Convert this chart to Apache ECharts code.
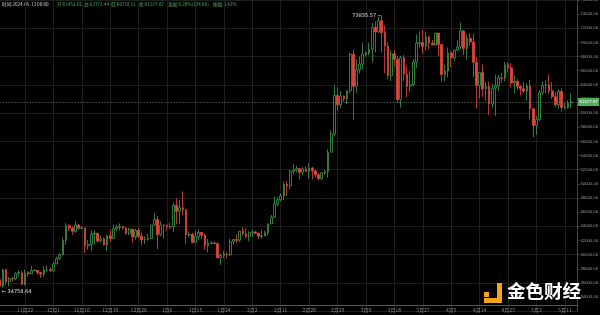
<!DOCTYPE html>
<html><head><meta charset="utf-8">
<script src="https://cdn.jsdelivr.net/npm/echarts@6/dist/echarts.min.js"></script>
<style>html,body{margin:0;padding:0;background:#000}#c{width:600px;height:315px}</style>
</head><body><div id="c"></div>
<script>
// Daily BTC candles, first day 2023-11-14
const startDate = '2023-11-14';
const axisBaseDate = '2023-11-22';
const opens = [36462,35537,37880,36160,36595,36568,37360,37450,35760,37420,37290,37720,37795,37480,37250,37830,37850,
37712,38690,39460,39970,41980,44080,43770,43290,44170,43720,43790,41240,41450,42890,43020,41930,42240,41360,42660,42260,43650,43870,43990,43740,43020,43610,42520,43440,42580,42070,42140,
42280,44180,44950,42850,44180,44160,43970,43930,46970,46120,46630,46340,42780,42850,41730,42510,43150,42740,41260,41620,41660,41580,39570,39880,40080,39940,41820,42120,42030,43300,42940,
42580,43080,43200,43010,42580,42660,43090,44340,45290,47130,47750,48290,49960,49700,51790,51910,52160,51660,52120,51780,52260,51850,51300,50740,51570,51730,54480,57050,62500,
61190,62440,62030,63170,68330,63800,66110,66930,68300,68500,69020,72120,71480,73070,71390,69500,65300,68390,67610,61940,67840,65500,63800,64040,67210,69880,69990,69450,70780,69890,69650,
71330,69700,65460,65960,68500,67840,68900,69360,71620,69140,70590,70060,67190,63920,65740,63420,63810,61280,63510,63840,64990,64940,66840,66410,64280,64500,63770,63460,63120,63840,
60640,58250,59120,62890,63890,64030,63160,62330,61190,63070,60790,60820,61453.01];
const closes = [35537,37880,36160,36595,36568,37360,37450,35760,37420,37290,37720,37795,37480,37250,37830,37850,37712,
38690,39460,39970,41980,44080,43770,43290,44170,43720,43790,41240,41450,42890,43020,41930,42240,41360,42660,42260,43650,43870,43990,43740,43020,43610,42520,43440,42580,42070,42140,42280,
44180,44950,42850,44180,44160,43970,43930,46970,46120,46630,46340,42780,42850,41730,42510,43150,42740,41260,41620,41660,41580,39570,39880,40080,39940,41820,42120,42030,43300,42940,42580,
43080,43200,43010,42580,42660,43090,44340,45290,47130,47750,48290,49960,49700,51790,51910,52160,51660,52120,51780,52260,51850,51300,50740,51570,51730,54480,57050,62500,61190,
62440,62030,63170,68330,63800,66110,66930,68300,68500,69020,72120,71480,73070,71390,69500,65300,68390,67610,61940,67840,65500,63800,64040,67210,69880,69990,69450,70780,69890,69650,71330,
69700,65460,65960,68500,67840,68900,69360,71620,69140,70590,70060,67190,63920,65740,63420,63810,61280,63510,63840,64990,64940,66840,66410,64280,64500,63770,63460,63120,63840,60640,
58250,59120,62890,63890,64030,63160,62330,61190,63070,60790,60820,61450,61577.87];
const lows = [34758.64,35360,35670,35510,36180,36380,36900,35720,35630,36870,37250,37620,37160,36720,36880,37600,37500,
37620,38650,39280,39970,41420,43340,42820,43080,43580,43580,40220,40680,40560,41400,41660,41680,41250,40500,41800,42200,43300,43400,43550,42780,42730,41700,42100,42320,41300,41520,41970,
42180,44150,40750,42630,42300,43400,43600,43200,44300,44350,45600,41500,42440,41720,41720,42050,42200,40680,40280,41450,41500,39430,38550,39480,39500,39820,41400,41620,41800,42680,42280,
41880,42570,42890,42220,42260,42580,42690,44330,45240,46800,47540,47710,48300,49250,51310,51620,50620,51200,51680,50760,50630,50900,50500,50580,51290,50900,54450,56700,60360,
60800,61600,61300,62800,59000,62850,65600,66200,68000,68180,67200,68600,71340,68560,65630,64780,64550,66600,61500,60780,64530,62260,63040,63820,66390,69280,68370,68900,69070,69600,69560,
68060,64500,64490,65050,66500,67440,68820,69040,68210,67520,69570,65100,60660,62130,62300,61700,59770,60800,59600,63170,64240,64500,65860,63600,62790,63300,62500,62800,61800,59100,
56550,56940,58850,62580,62830,62700,62000,60880,60630,60190,60490,60630,60718.51];
const highs = [36744,37980,37930,36850,36845,37500,37760,37650,37880,37650,38420,37900,37830,37590,38400,38450,38150,
38960,39700,40200,42420,44490,44300,44050,44700,44360,44040,43800,42100,43430,43400,43090,42720,42430,42750,43480,44280,44240,44400,44000,43950,43800,43610,43680,43800,43120,42600,42900,
44180,45880,45500,44730,44340,44230,44500,47250,47900,47700,48970,46500,43260,43080,43400,43580,43200,42930,42200,41850,41880,41700,40130,40550,40290,42230,42200,42840,43300,43880,43740,
43290,43480,43380,43120,43500,43400,44400,45600,48200,48170,48590,50330,50370,52000,52820,52570,52200,52360,52480,52980,52370,52000,51540,51700,51950,54900,57550,64000,63680,
63150,62430,63230,68500,69000,67640,68030,69960,68700,69970,72800,73000,73650,73835.57,72420,70050,68900,68930,68120,68100,68240,66650,65970,67620,71150,71560,71770,71550,70900,70350,71370,
71340,69700,66900,69290,68720,69000,70330,72800,71760,71170,71300,71230,67930,65840,66870,64360,64500,64120,65450,65420,65720,67230,67200,67080,65300,64800,63930,64370,64230,64730,
60780,59600,63320,64500,64640,65500,64420,62990,63420,63470,61490,61820,62772.44];
const yMin = 32000, yMax = 76000, yStep = 2000, gridStep = 4000;
const xStep = 9;
const headerParts = [
  {t:'时间:2024-05-13 08:00', x:2, c:'#cfcfcf'},
  {t:'开:61453.01', x:57, c:'#4fae5a'},
  {t:'高:62772.44', x:84, c:'#4fae5a'},
  {t:'低:60718.51', x:111, c:'#4fae5a'},
  {t:'收:61577.87', x:139, c:'#4fae5a'},
  {t:'涨幅:0.20%(124.86)', x:168, c:'#4fae5a'},
  {t:'振幅:3.42%', x:213, c:'#4fae5a'}
];

const DAY = 86400000;
const t0 = Date.parse(startDate + 'T00:00:00Z');
const tb = Date.parse(axisBaseDate + 'T00:00:00Z');
const offset0 = Math.round((t0 - tb) / DAY);
const data = opens.map((o, i) => [offset0 + i, o, closes[i], lows[i], highs[i]]);
const lastClose = closes[closes.length - 1];
const fmtDate = v => { const d = new Date(tb + v * DAY); return (d.getUTCMonth() + 1) + '月' + d.getUTCDate(); };

const chart = echarts.init(document.getElementById('c'));
const FONT = 'Noto Sans CJK SC';
chart.setOption({
  backgroundColor: '#000',
  animation: false,
  grid: {left: -3.4, right: 22.5, top: 0, bottom: 3.8, containLabel: false, outerBoundsMode: 'none'},
  xAxis: {
    type: 'value', min: -9, max: 175, interval: xStep, offset: -5.7,
    axisLine: {show: true, onZero: false, lineStyle: {color: '#555', width: 1}},
    axisTick: {show: false},
    axisLabel: {formatter: fmtDate, color: '#8c8c8c', fontSize: 5, margin: 2, showMinLabel: false, showMaxLabel: false, fontFamily: FONT},
    splitLine: {show: true, lineStyle: {color: '#1e1e1e', width: 1}}
  },
  yAxis: [{
    type: 'value', position: 'right', min: yMin, max: yMax, interval: yStep,
    axisLine: {show: true, onZero: false, lineStyle: {color: '#444'}},
    axisTick: {show: true, length: 2, lineStyle: {color: '#444'}},
    axisLabel: {formatter: v => v.toFixed(2), color: '#9a9a9a', fontSize: 4.2, margin: 3, showMinLabel: false, fontFamily: 'Liberation Sans'},
    splitLine: {show: false}
  }, {
    type: 'value', position: 'right', min: yMin, max: yMax, interval: gridStep,
    axisLine: {show: false, onZero: false}, axisTick: {show: false}, axisLabel: {show: false},
    splitLine: {show: true, lineStyle: {color: '#1e1e1e', width: 1}}
  }],
  series: [{
    type: 'candlestick',
    data: data,
    barWidth: 2.2,
    itemStyle: {color: '#000', color0: '#e2463a', borderColor: '#3f9a4b', borderColor0: '#e2463a', borderWidth: 0.8},
    markPoint: {
      symbol: 'circle', symbolSize: 0,
      data: [
        {type: 'max', valueDim: 'highest', label: {position: 'left', distance: 1, formatter: p => p.value.toFixed(2) + ' ─', color: '#e0e0e0', fontSize: 5, fontFamily: 'DejaVu Sans'}},
        {type: 'min', valueDim: 'lowest', label: {position: 'right', distance: 2, formatter: p => '← ' + p.value.toFixed(2), color: '#e0e0e0', fontSize: 5, fontFamily: 'DejaVu Sans'}}
      ]
    },
    markLine: {
      symbol: 'none', silent: true,
      lineStyle: {type: [1, 2], color: '#6b7a5a', width: 1},
      label: {position: 'end', distance: 0.5, formatter: p => p.value.toFixed(2), color: '#fff', backgroundColor: '#4fae5a', padding: [2, 1.5], fontSize: 4.4, fontFamily: 'Liberation Sans'},
      data: [{yAxis: lastClose}]
    }
  }],
  graphic: [
    ...headerParts.map(h => ({type: 'text', x: h.x, y: 2, style: {text: h.t, fill: h.c, fontSize: 4.6, fontFamily: FONT}})),
    {type: 'rect', shape: {x: 484, y: 292, width: 5, height: 5}, style: {fill: '#f2a516'}, z: 10},
    {type: 'rect', shape: {x: 497, y: 283, width: 5, height: 20}, style: {fill: '#f2a516'}, z: 10},
    {type: 'rect', shape: {x: 484, y: 298, width: 18, height: 5}, style: {fill: '#f2a516'}, z: 10},
    {type: 'text', x: 507, y: 282, z: 10, style: {text: '金色财经', fill: '#ffffff', fontSize: 18.5, fontWeight: 'bold', fontFamily: FONT}}
  ]
});
</script></body></html>
